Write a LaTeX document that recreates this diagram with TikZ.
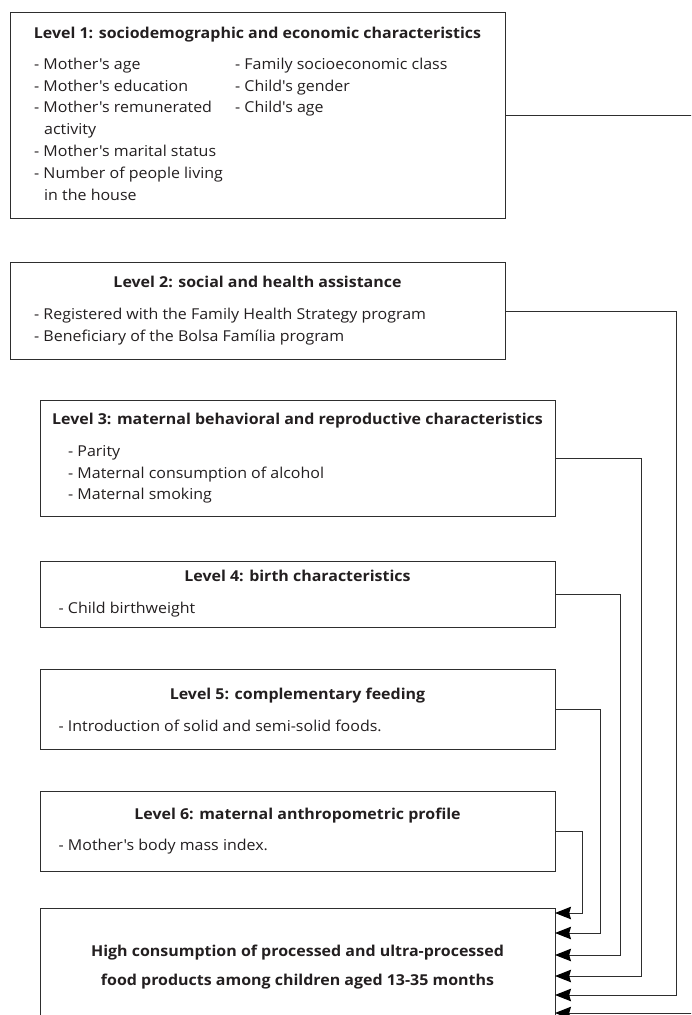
\documentclass[tikz,border=0pt]{standalone}
\usepackage{fontspec}
\setmainfont{Open Sans}[FakeStretch=1.065, Ligatures=TeXOff]
\usetikzlibrary{arrows.meta}
\definecolor{ink}{HTML}{231F20}
\definecolor{edge}{HTML}{2E2E2E}
\begin{document}
\begin{tikzpicture}[x=1pt,y=-1pt,
  box/.style={draw=edge, line width=1pt, inner sep=0pt, anchor=north west},
  txt/.style={anchor=base west, inner sep=0pt, text=ink, font=\fontsize{15}{17}\selectfont},
  ttl/.style={anchor=base, inner sep=0pt, text=ink, font=\bfseries\fontsize{15}{17}\selectfont},
  conn/.style={draw=edge, line width=1pt},
  arr/.style={conn, -{Stealth[length=16pt,width=12.5pt,inset=1.8pt,color=black,fill=black]}}]
\useasboundingbox (0,0) rectangle (691,1015);
\clip (0,0) rectangle (691,1015);
\fill[white] (0,0) rectangle (691,1015);

% boxes
\node[box, minimum width=495pt, minimum height=206pt] (b1) at (10,12) {};
\node[box, minimum width=495pt, minimum height=97pt]  (b2) at (10,262) {};
\node[box, minimum width=515pt, minimum height=116pt] (b3) at (40,400) {};
\node[box, minimum width=515pt, minimum height=66pt]  (b4) at (40,561) {};
\node[box, minimum width=515pt, minimum height=80pt]  (b5) at (40,669) {};
\node[box, minimum width=515pt, minimum height=80pt]  (b6) at (40,791) {};
\node[box, minimum width=515pt, minimum height=140pt] (b7) at (40,908) {};

% level 1
\node[ttl] (t1) at (257.5,38.5) {Level 1: sociodemographic and economic characteristics};
\node[txt] (t1a) at (34,69.5)  {- Mother's age};
\node[txt] (t1b) at (34,91)    {- Mother's education};
\node[txt] (t1c) at (34,112.5) {- Mother's remunerated};
\node[txt] (t1d) at (44,134)   {activity};
\node[txt] (t1e) at (34,156)   {- Mother's marital status};
\node[txt] (t1f) at (34,178)   {- Number of people living};
\node[txt] (t1g) at (44,200)   {in the house};
\node[txt] (t1h) at (235,69.5) {- Family socioeconomic class};
\node[txt] (t1i) at (235,91)   {- Child's gender};
\node[txt] (t1j) at (235,112.5){- Child's age};

% level 2
\node[ttl] (t2) at (257.5,287.5) {Level 2: social and health assistance};
\node[txt] (t2a) at (34,319) {- Registered with the Family Health Strategy program};
\node[txt] (t2b) at (34,341) {- Beneficiary of the Bolsa Família program};

% level 3
\node[ttl] (t3) at (297.5,424.5) {Level 3: maternal behavioral and reproductive characteristics};
\node[txt] (t3a) at (68,456)   {- Parity};
\node[txt] (t3b) at (68,478)   {- Maternal consumption of alcohol};
\node[txt] (t3c) at (68,499.5) {- Maternal smoking};

% level 4
\node[ttl] (t4) at (297.5,581.5) {Level 4: birth characteristics};
\node[txt] (t4a) at (58.5,613.5) {- Child birthweight};

% level 5
\node[ttl] (t5) at (297.5,699.5) {Level 5: complementary feeding};
\node[txt] (t5a) at (58.5,731.5) {- Introduction of solid and semi-solid foods.};

% level 6
\node[ttl] (t6) at (297.5,819) {Level 6: maternal anthropometric profile};
\node[txt] (t6a) at (58.5,850.5) {- Mother's body mass index.};

% outcome
\node[ttl] (t7a) at (297.5,956) {High consumption of processed and ultra-processed};
\node[ttl] (t7b) at (297.5,985.5) {food products among children aged 13-35 months};

% arrow targets and elbows
\coordinate (a6) at (555,913);  \coordinate (k6) at (582.5,913);
\coordinate (a5) at (555,933);  \coordinate (k5) at (600.5,933);
\coordinate (a4) at (555,955);  \coordinate (k4) at (620.5,955);
\coordinate (a3) at (555,976);  \coordinate (k3) at (641.5,976);
\coordinate (a2) at (555,995);  \coordinate (k2) at (676,995);
\coordinate (a1) at (555,1013); \coordinate (k1) at (720,1013);

\draw[arr] (b6.east) -| (k6) -- (a6);
\draw[arr] (b5.east) -| (k5) -- (a5);
\draw[arr] (b4.east) -| (k4) -- (a4);
\draw[arr] (b3.east) -| (k3) -- (a3);
\draw[arr] (b2.east) -| (k2) -- (a2);
\draw[arr] (b1.east) -| (k1) -- (a1);
\end{tikzpicture}
\end{document}
